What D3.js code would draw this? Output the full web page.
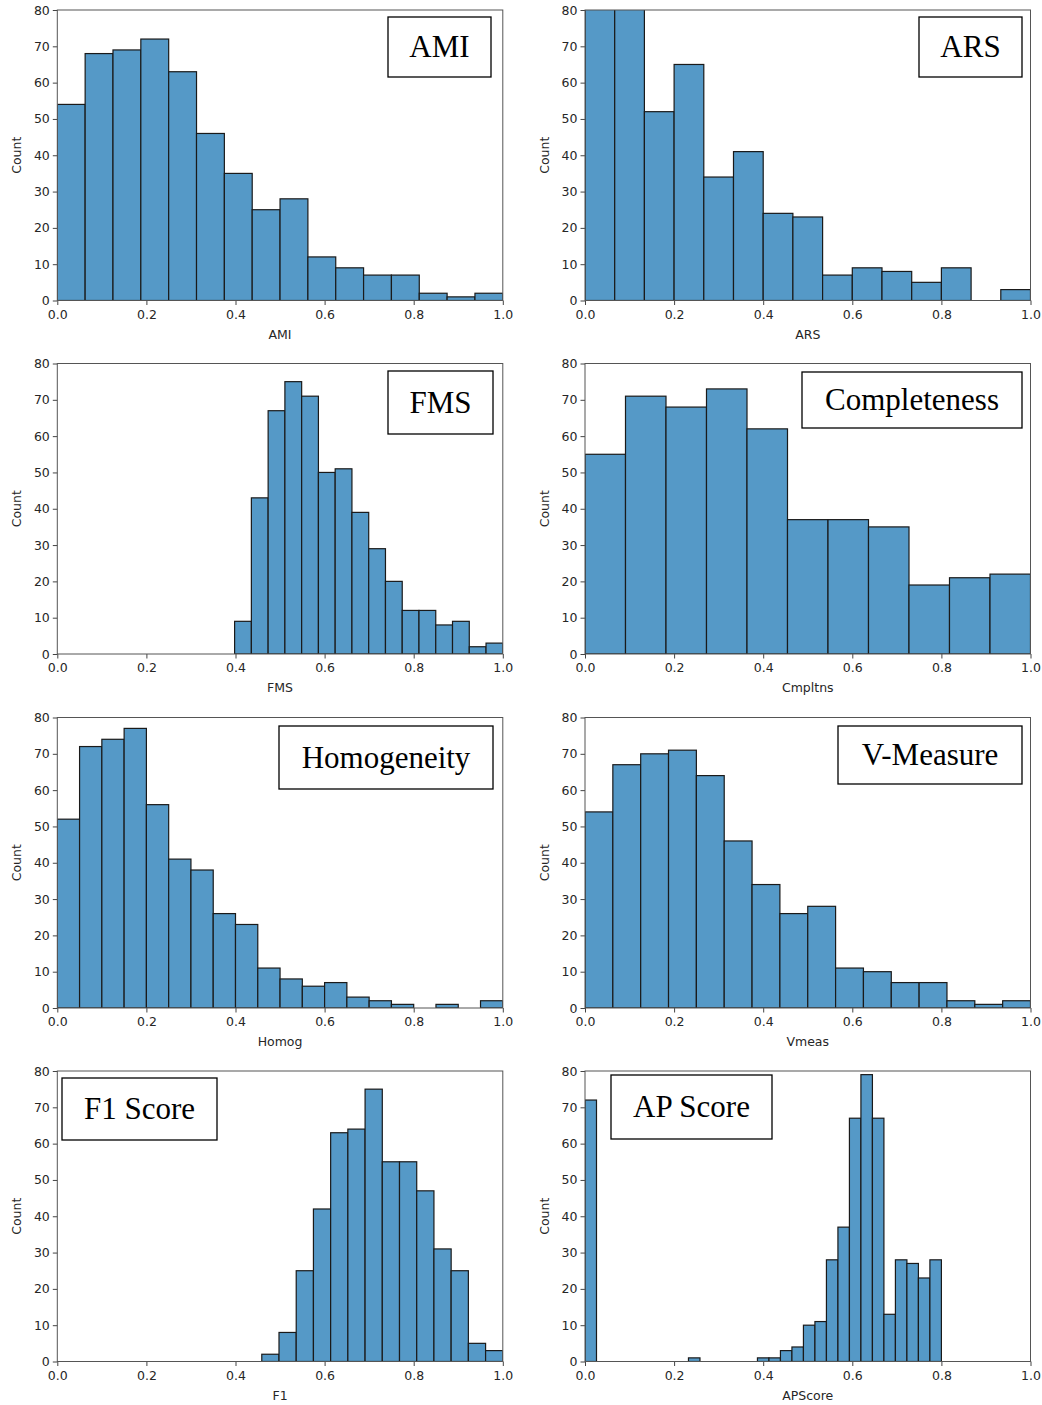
<!DOCTYPE html>
<html>
<head>
<meta charset="utf-8">
<script src="https://cdn.jsdelivr.net/npm/d3@7"></script>
<style>
  body { margin: 0; background: #fff; }
  svg { display: block; }
  .tick text { font-family: "DejaVu Sans", sans-serif; font-size: 12.5px; fill: #262626; }
  .tick line { stroke: #444; }
</style>
</head>
<body>
<div id="chart"></div>
<script>
// histogram counts, one array per metric
var amiCounts = [54, 68, 69, 72, 63, 46, 35, 25, 28, 12, 9, 7, 7, 2, 1, 2];
var arsCounts = [92, 88, 52, 65, 34, 41, 24, 23, 7, 9, 8, 5, 9, 0, 3];
var fmsCounts = [9, 43, 67, 75, 71, 50, 51, 39, 29, 20, 12, 12, 8, 9, 2, 3];
var cmpCounts = [55, 71, 68, 73, 62, 37, 37, 35, 19, 21, 22];
var homCounts = [52, 72, 74, 77, 56, 41, 38, 26, 23, 11, 8, 6, 7, 3, 2, 1, 0, 1, 0, 2];
var vmsCounts = [54, 67, 70, 71, 64, 46, 34, 26, 28, 11, 10, 7, 7, 2, 1, 2];
var f1Counts  = [2, 8, 25, 42, 63, 64, 75, 55, 55, 47, 31, 25, 5, 3];
var apCounts  = [72, 0, 0, 0, 0, 0, 0, 0, 0, 1, 0, 0, 0, 0, 0, 1, 1, 3, 4, 10, 11, 28, 37, 67, 79, 67, 13, 28, 27, 23, 28];

// range covered by the bins of each histogram [min, max]
var amiRange = [0, 1];
var arsRange = [0, 1];
var fmsRange = [0.398, 1];
var cmpRange = [0, 1];
var homRange = [0, 1];
var vmsRange = [0, 1];
var f1Range  = [0.459, 1];
var apRange  = [0, 0.8];

var xTicks = [0, 0.2, 0.4, 0.6, 0.8, 1.0];
var yTicks = [0, 10, 20, 30, 40, 50, 60, 70, 80];

var panels = [
  { counts: amiCounts, range: amiRange, xlabel: 'AMI',     title: 'AMI',          box: [388, 17, 103, 60] },
  { counts: arsCounts, range: arsRange, xlabel: 'ARS',     title: 'ARS',          box: [919, 17, 103, 60] },
  { counts: fmsCounts, range: fmsRange, xlabel: 'FMS',     title: 'FMS',          box: [388, 371, 105, 63] },
  { counts: cmpCounts, range: cmpRange, xlabel: 'Cmpltns', title: 'Completeness', box: [802, 372, 220, 56] },
  { counts: homCounts, range: homRange, xlabel: 'Homog',   title: 'Homogeneity',  box: [279, 726, 214, 63] },
  { counts: vmsCounts, range: vmsRange, xlabel: 'Vmeas',   title: 'V-Measure',    box: [838, 726, 184, 58] },
  { counts: f1Counts,  range: f1Range,  xlabel: 'F1',      title: 'F1 Score',     box: [62, 1078, 155, 62] },
  { counts: apCounts,  range: apRange,  xlabel: 'APScore', title: 'AP Score',     box: [611, 1075, 161, 64] }
];

var colLeft = [57.3, 585],
    rowTop = [10, 363.5, 717.5, 1071],
    plotW = 445.5,
    plotH = 290.5;

var svg = d3.select('#chart').append('svg')
    .attr('width', 1042)
    .attr('height', 1405);

panels.forEach(function(p, i) {
  var left = colLeft[i % 2],
      top = rowTop[Math.floor(i / 2)];

  var x = d3.scaleLinear().domain([0, 1]).range([0, plotW]);
  var y = d3.scaleLinear().domain([0, 80]).range([plotH, 0]);

  var n = p.counts.length,
      step = (p.range[1] - p.range[0]) / n;
  var bins = p.counts.map(function(c, k) {
    return { x0: p.range[0] + k * step, x1: p.range[0] + (k + 1) * step, count: c };
  });

  var g = svg.append('g').attr('transform', 'translate(' + left + ',' + top + ')');

  g.append('clipPath').attr('id', 'clip' + i)
    .append('rect').attr('x', 0).attr('y', 0).attr('width', plotW).attr('height', plotH);

  g.append('g').attr('clip-path', 'url(#clip' + i + ')')
    .selectAll('rect')
    .data(bins.filter(function(b) { return b.count > 0; }))
    .enter().append('rect')
      .attr('x', function(d) { return x(d.x0); })
      .attr('y', function(d) { return y(d.count); })
      .attr('width', function(d) { return x(d.x1) - x(d.x0); })
      .attr('height', function(d) { return plotH - y(d.count); })
      .attr('fill', '#5599c7')
      .attr('stroke', '#1a1a1a')
      .attr('stroke-width', 1.2);

  var xAxis = g.append('g')
    .attr('transform', 'translate(0,' + plotH + ')')
    .call(d3.axisBottom(x).tickValues(xTicks).tickFormat(d3.format('.1f')).tickSize(4.5).tickPadding(5));
  xAxis.select('.domain').remove();

  var yAxis = g.append('g')
    .call(d3.axisLeft(y).tickValues(yTicks).tickFormat(d3.format('d')).tickSize(4.5).tickPadding(3));
  yAxis.select('.domain').remove();

  // axes frame
  g.append('rect')
    .attr('width', plotW).attr('height', plotH)
    .attr('fill', 'none')
    .attr('stroke', '#555')
    .attr('stroke-width', 1);

  g.append('text')
    .attr('x', plotW / 2)
    .attr('y', plotH + 38)
    .attr('text-anchor', 'middle')
    .style('font-family', '"DejaVu Sans", sans-serif')
    .style('font-size', '12.5px')
    .style('fill', '#262626')
    .text(p.xlabel);

  g.append('text')
    .attr('transform', 'translate(' + (-36) + ',' + (plotH / 2) + ') rotate(-90)')
    .attr('text-anchor', 'middle')
    .style('font-family', '"DejaVu Sans", sans-serif')
    .style('font-size', '12.5px')
    .style('fill', '#262626')
    .text('Count');

  // boxed metric name
  var b = p.box;
  svg.append('rect')
    .attr('x', b[0]).attr('y', b[1])
    .attr('width', b[2]).attr('height', b[3])
    .attr('fill', '#fff')
    .attr('stroke', '#000')
    .attr('stroke-width', 1.3);
  svg.append('text')
    .attr('x', b[0] + b[2] / 2)
    .attr('y', b[1] + b[3] / 2 + 10)
    .attr('text-anchor', 'middle')
    .style('font-family', '"Liberation Serif", "Times New Roman", serif')
    .style('font-size', '31px')
    .style('fill', '#000')
    .text(p.title);
});
</script>
</body>
</html>
